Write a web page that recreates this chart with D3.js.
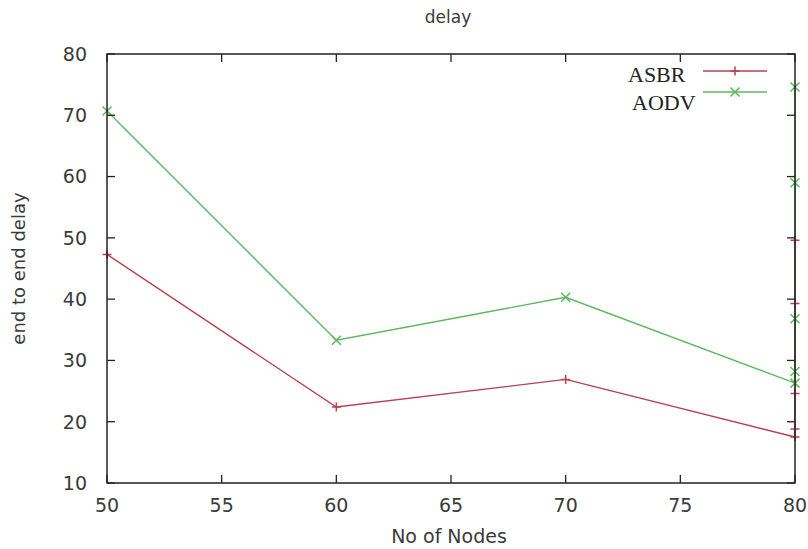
<!DOCTYPE html>
<html>
<head>
<meta charset="utf-8">
<script src="https://cdn.jsdelivr.net/npm/d3@7"></script>
<style>
  body { margin: 0; background: #fff; }
  text { font-family: "DejaVu Sans", sans-serif; fill: #3a3a3a; }
</style>
</head>
<body>
<div id="chart"></div>
<script>
// Chart size
const width = 808;
const height = 549;
const margin = { top: 54, right: 13, bottom: 66, left: 107 };

// Data (the extra x=80 values sit on the right border)
const nodes = [50, 60, 70, 80, 80, 80, 80, 80];
const asbr = [47.3, 22.4, 26.9, 17.5, 18.8, 24.6, 39.3, 49.6];
const aodv = [70.7, 33.3, 40.3, 26.3, 28.2, 36.8, 59.0, 74.6];
const xTicks = [50, 55, 60, 65, 70, 75, 80];
const yTicks = [10, 20, 30, 40, 50, 60, 70, 80];

const series = [
  { name: "ASBR", values: asbr, color: "#b8404f", marker: "plus" },
  { name: "AODV", values: aodv, color: "#5cb85c", marker: "cross" }
];

const svg = d3.select("#chart")
  .append("svg")
  .attr("width", width)
  .attr("height", height);

const x = d3.scaleLinear().domain([50, 80]).range([margin.left, width - margin.right]);
const y = d3.scaleLinear().domain([10, 80]).range([height - margin.bottom, margin.top]);

const x0 = x.range()[0], x1 = x.range()[1];
const y0 = y.range()[0], y1 = y.range()[1];
const tickLen = 8;

// Lines
const line = d3.line()
  .x((d, i) => x(nodes[i]))
  .y(d => y(d));

series.forEach(s => {
  svg.append("path")
    .datum(s.values)
    .attr("fill", "none")
    .attr("stroke", s.color)
    .attr("stroke-width", 1.4)
    .attr("d", line);
});

// Markers
function drawMarker(g, type, cx, cy, color, r) {
  if (type === "plus") {
    g.append("path")
      .attr("d", `M${cx - r},${cy}H${cx + r}M${cx},${cy - r}V${cy + r}`)
      .attr("stroke", color).attr("stroke-width", 1.5);
  } else {
    g.append("path")
      .attr("d", `M${cx - r},${cy - r}L${cx + r},${cy + r}M${cx - r},${cy + r}L${cx + r},${cy - r}`)
      .attr("stroke", color).attr("stroke-width", 1.5);
  }
}

const markers = svg.append("g");
series.forEach(s => {
  s.values.forEach((v, i) => drawMarker(markers, s.marker, x(nodes[i]), y(v), s.color, 4.5));
});

// Border
svg.append("rect")
  .attr("x", x0).attr("y", y1)
  .attr("width", x1 - x0).attr("height", y0 - y1)
  .attr("fill", "none")
  .attr("stroke", "#222")
  .attr("stroke-width", 1.5);

// Ticks (inward, mirrored)
const ticks = svg.append("g").attr("stroke", "#222").attr("stroke-width", 1.3);
xTicks.forEach(t => {
  ticks.append("line").attr("x1", x(t)).attr("x2", x(t)).attr("y1", y0).attr("y2", y0 - tickLen);
  ticks.append("line").attr("x1", x(t)).attr("x2", x(t)).attr("y1", y1).attr("y2", y1 + tickLen);
});
yTicks.forEach(t => {
  ticks.append("line").attr("x1", x0).attr("x2", x0 + tickLen).attr("y1", y(t)).attr("y2", y(t));
  ticks.append("line").attr("x1", x1).attr("x2", x1 - tickLen).attr("y1", y(t)).attr("y2", y(t));
});

// Tick labels
svg.append("g").selectAll("text")
  .data(xTicks)
  .enter()
  .append("text")
  .attr("x", d => x(d))
  .attr("y", y0 + 29)
  .attr("text-anchor", "middle")
  .style("font-size", "19px")
  .text(d => d);

svg.append("g").selectAll("text")
  .data(yTicks)
  .enter()
  .append("text")
  .attr("x", x0 - 20)
  .attr("y", d => y(d))
  .attr("dy", "0.36em")
  .attr("text-anchor", "end")
  .style("font-size", "19px")
  .text(d => d);

// Titles
svg.append("text")
  .attr("x", 448).attr("y", 23)
  .attr("text-anchor", "middle")
  .style("font-size", "17px")
  .text("delay");

svg.append("text")
  .attr("x", 449).attr("y", 543)
  .attr("text-anchor", "middle")
  .style("font-size", "19px")
  .text("No of Nodes");

svg.append("text")
  .attr("transform", `translate(25, ${(y0 + y1) / 2}) rotate(-90)`)
  .attr("text-anchor", "middle")
  .style("font-size", "18px")
  .text("end to end delay");

// Legend
const legendRows = [
  { s: series[0], textX: 628, textY: 82, lineY: 71 },
  { s: series[1], textX: 632, textY: 110, lineY: 92 }
];
const legend = svg.append("g").attr("id", "legend");
legendRows.forEach(r => {
  legend.append("text")
    .attr("x", r.textX).attr("y", r.textY)
    .style("font-family", "'Liberation Serif', serif")
    .style("font-size", "22px")
    .style("fill", "#222")
    .text(r.s.name);
  legend.append("line")
    .attr("x1", 703).attr("x2", 767)
    .attr("y1", r.lineY).attr("y2", r.lineY)
    .attr("stroke", r.s.color).attr("stroke-width", 1.4);
  drawMarker(legend, r.s.marker, 735, r.lineY, r.s.color, 4.5);
});
</script>
</body>
</html>
